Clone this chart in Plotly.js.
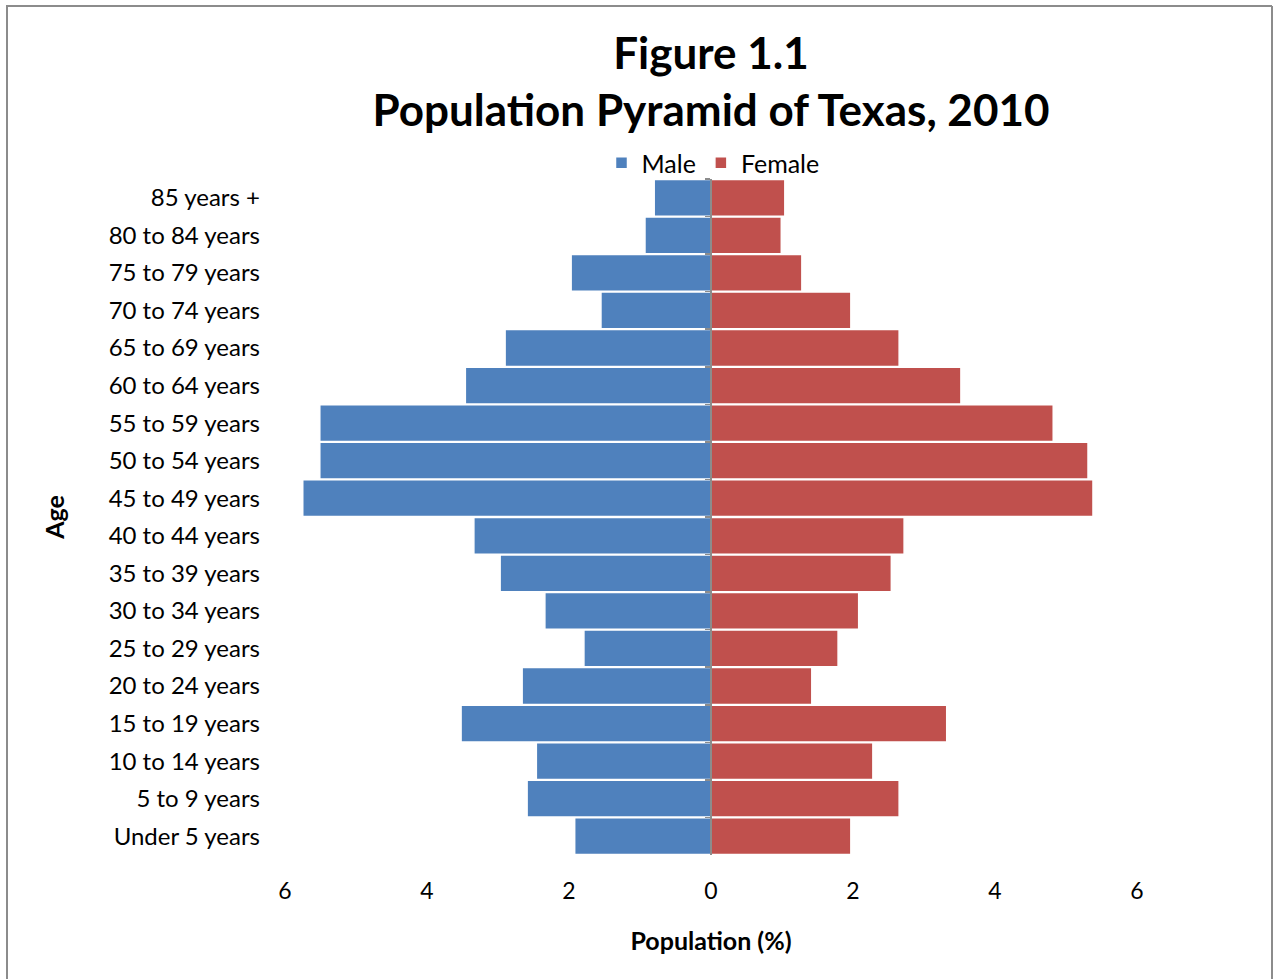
<!DOCTYPE html>
<html>
<head>
<meta charset="utf-8">
<script src="https://cdn.plot.ly/plotly-3.0.1.min.js"></script>
<style>body{margin:0;background:#fff;}#chart{width:1273px;height:979px;}</style>
</head>
<body>
<div id="chart"></div>
<script>
const ageGroups = ["85 years +","80 to 84 years","75 to 79 years","70 to 74 years","65 to 69 years","60 to 64 years","55 to 59 years","50 to 54 years","45 to 49 years","40 to 44 years","35 to 39 years","30 to 34 years","25 to 29 years","20 to 24 years","15 to 19 years","10 to 14 years","5 to 9 years","Under 5 years"];
const malePct = [0.80,0.93,1.97,1.55,2.90,3.46,5.51,5.51,5.75,3.34,2.97,2.34,1.79,2.66,3.52,2.46,2.59,1.92];
const femalePct = [1.04,0.99,1.28,1.97,2.65,3.52,4.82,5.31,5.38,2.72,2.54,2.08,1.79,1.42,3.32,2.28,2.65,1.97];
const xTickVals = [-6,-4,-2,0,2,4,6];
const xTickText = ["6","4","2","0","2","4","6"];

const FONT = "Lato, 'Open Sans', sans-serif";
const maleTrace = {
  type: "bar", orientation: "h", name: "Male",
  y: ageGroups, x: malePct.map(v => -v),
  marker: {color: "#4F81BD", line: {color: "#ffffff", width: 1.5}},
  hoverinfo: "skip", yaxis: "y"
};
const femaleTrace = {
  type: "bar", orientation: "h", name: "Female",
  y: ageGroups, x: femalePct,
  marker: {color: "#C0504D", line: {color: "#ffffff", width: 1.5}},
  hoverinfo: "skip", yaxis: "y2"
};

const L = 285, R = 136, T = 179, B = 124, W = 1273, H = 979;
const pw = W - L - R, ph = H - T - B;
const px = v => (v - L) / pw;
const py = v => (H - B - v) / ph;

const layout = {
  width: W, height: H,
  margin: {l: L, r: R, t: T, b: B, pad: 0},
  paper_bgcolor: "#ffffff", plot_bgcolor: "#ffffff",
  font: {family: FONT, color: "#000000", size: 24},
  title: {
    text: "<b>Figure 1.1</b><br><b>Population Pyramid of Texas, 2010</b>",
    font: {family: FONT, size: 44, color: "#000"},
    x: 0.5, xref: "paper", xanchor: "center",
    y: 1 - 69 / H, yref: "container", yanchor: "middle"
  },
  barmode: "relative", bargap: 0.02,
  showlegend: true,
  legend: {orientation: "h", x: px(713), xanchor: "center", y: py(163), yanchor: "middle",
           bgcolor: "rgba(0,0,0,0)",
           font: {size: 25, family: FONT}, traceorder: "normal"},
  xaxis: {
    range: [-6, 6], tickvals: xTickVals, ticktext: xTickText,
    showgrid: false, zeroline: false, showline: false, ticks: "",
    ticklabelstandoff: 20, tickfont: {size: 23},
    title: {text: "<b>Population (%)</b>", font: {size: 25}, standoff: 29},
    fixedrange: true
  },
  yaxis: {
    type: "category", autorange: "reversed",
    showgrid: false, zeroline: false, showline: false, ticks: "",
    ticklabelstandoff: 24, tickfont: {size: 24},
    title: {text: "<b>Age</b>", font: {size: 25}, standoff: 36},
    fixedrange: true
  },
  yaxis2: {
    type: "category", autorange: "reversed", overlaying: "y", matches: "y",
    anchor: "free", position: 0.5, side: "left",
    showgrid: false, zeroline: false, showline: true, linecolor: "#8c8c8c", linewidth: 2,
    ticks: "outside", tickson: "boundaries", ticklen: 5, tickcolor: "#8c8c8c", tickwidth: 1.5,
    showticklabels: false, fixedrange: true
  },
  shapes: [
    {type: "line", xref: "paper", yref: "paper", x0: px(7), x1: px(7), y0: py(6), y1: py(990), line: {color: "#8c8c8c", width: 2}},
    {type: "line", xref: "paper", yref: "paper", x0: px(6), x1: px(1272), y0: py(6), y1: py(6), line: {color: "#8c8c8c", width: 2}},
    {type: "line", xref: "paper", yref: "paper", x0: px(1272), x1: px(1272), y0: py(6), y1: py(990), line: {color: "#8c8c8c", width: 2}}
  ]
};

Plotly.newPlot("chart", [maleTrace, femaleTrace], layout, {displayModeBar: false, staticPlot: true});
</script>
</body>
</html>
